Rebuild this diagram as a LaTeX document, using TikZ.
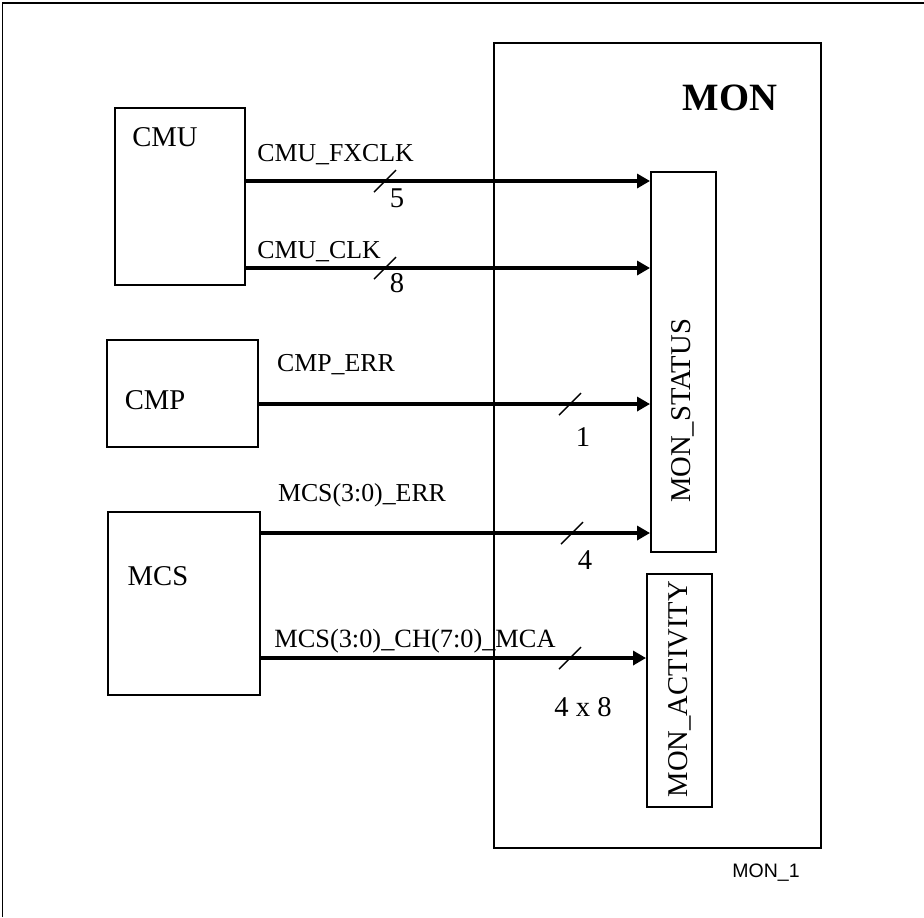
\documentclass[tikz,border=0pt]{standalone}
\usepackage{fontspec}
\setmainfont{Liberation Serif}
\newfontfamily\arialfont{Liberation Sans}
\usetikzlibrary{arrows.meta}
\begin{document}
\begin{tikzpicture}[x=0.2mm,y=-0.2mm,
    box/.style={draw,line width=1.1pt,inner sep=0pt},
    bus/.style={line width=2pt,-{Triangle[length=2.6mm,width=2.8mm]}},
    tick/.style={line width=0.8pt},
    lbl/.style={font=\fontsize{14.7}{17}\selectfont,inner sep=0pt},
    biglbl/.style={font=\fontsize{16.3}{19}\selectfont,inner sep=0pt}]
    \useasboundingbox (0,0) rectangle (924,917);
    \draw[line width=1.1pt] (2.5,917) -- (2.5,3) -- (924,3);
    \node[box,minimum width=65.4mm,minimum height=161mm] (mon) at (657.5,445.5) {};
    \node[lbl,font=\fontsize{22}{26}\selectfont\bfseries] (monttl) at (730,98) {MON};
    \node[box,minimum width=26mm,minimum height=35.4mm] (cmu) at (180,196.5) {};
    \node[biglbl] (cmutxt) at (165,137) {CMU};
    \node[box,minimum width=30.2mm,minimum height=21.4mm] (cmp) at (182.5,393.5) {};
    \node[biglbl] (cmptxt) at (155,400) {CMP};
    \node[box,minimum width=30.4mm,minimum height=36.6mm] (mcs) at (184,603.5) {};
    \node[biglbl] (mcstxt) at (158,576) {MCS};
    \node[box,minimum width=13mm,minimum height=76mm] (stat) at (683.5,362) {};
    \node[biglbl,rotate=90] (stattxt) at (683,411) {MON\_STATUS};
    \node[box,minimum width=13mm,minimum height=46.6mm] (act) at (679.5,690.5) {};
    \node[biglbl,rotate=90] (acttxt) at (680,689) {MON\_ACTIVITY};
    % buses
    \coordinate (yfx) at (0,181); \coordinate (yclk) at (0,268);
    \coordinate (yerr) at (0,404); \coordinate (ymcs) at (0,533);
    \coordinate (ymca) at (0,658);
    \draw[bus] (cmu.east |- yfx) -- (stat.west |- yfx);
    \draw[bus] (cmu.east |- yclk) -- (stat.west |- yclk);
    \draw[bus] (cmp.east |- yerr) -- (stat.west |- yerr);
    \draw[bus] (mcs.east |- ymcs) -- (stat.west |- ymcs);
    \draw[bus] (mcs.east |- ymca) -- (act.west |- ymca);
    \node[lbl,anchor=west] (fxlbl) at (257,155) {CMU\_FXCLK};
    \node[lbl,anchor=west] (clklbl) at (257,252) {CMU\_CLK};
    \node[lbl] (errlbl) at (336,365) {CMP\_ERR};
    \node[lbl] (mcslbl) at (362,495) {MCS(3:0)\_ERR};
    \node[lbl,anchor=west,font=\fontsize{15}{17}\selectfont] (mcalbl) at (274,641) {MCS(3:0)\_CH(7:0)\_MCA};
    % bus widths
    \coordinate (s1) at (385,181); \coordinate (s2) at (385,268);
    \coordinate (s3) at (570,404); \coordinate (s4) at (572,533);
    \coordinate (s5) at (570,658);
    \draw[tick] (s1) ++(-11,11) -- ++(22,-22);
    \draw[tick] (s2) ++(-11,11) -- ++(22,-22);
    \draw[tick] (s3) ++(-11,11) -- ++(22,-22);
    \draw[tick] (s4) ++(-11,11) -- ++(22,-22);
    \draw[tick] (s5) ++(-11,11) -- ++(22,-22);
    \node[biglbl] (w1) at (397,198) {5};
    \node[biglbl] (w2) at (397,283) {8};
    \node[biglbl] (w3) at (583,437) {1};
    \node[biglbl] (w4) at (585,560) {4};
    \node[biglbl] (w5) at (583,707) {4 x 8};
    \node[lbl,font=\arialfont\fontsize{11.1}{13}\selectfont] (fig) at (766,873) {MON\_1};
\end{tikzpicture}
\end{document}
